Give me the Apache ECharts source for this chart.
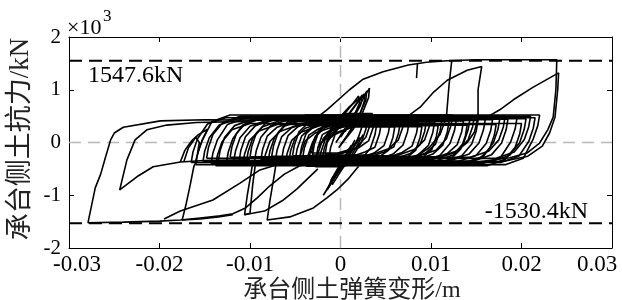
<!DOCTYPE html>
<html><head><meta charset="utf-8">
<script src="https://cdn.jsdelivr.net/npm/echarts@6/dist/echarts.min.js"></script>
<style>html,body{margin:0;padding:0;background:#fff}#c{width:622px;height:300px}</style>
</head><body><div id="c"></div>
<script>
// ---- axis ticks ----
const xTickValues = [-0.03, -0.02, -0.01, 0, 0.01, 0.02, 0.03];
const yTickValues = [-2, -1, 0, 1, 2];
const yScaleLabel = '×10';
const yScaleExp = '3';
// ---- reference limits (x10^3 kN) ----
const limitUpper = 1.5476;
const limitLower = -1.5304;
const limitUpperText = '1547.6kN';
const limitLowerText = '-1530.4kN';
// ---- hysteresis branches (x: m, y: x10^3 kN) ----
const negOuter = [[-0.0012,0.36],[-0.0067,0.42],[-0.015,0.43],[-0.0199,0.41],[-0.024,0.29],[-0.025,0.18],[-0.0254,0.05],[-0.026,-0.3],[-0.0265,-0.6],[-0.0271,-0.86],[-0.0279,-1.52],[-0.024,-1.51],[-0.02,-1.49],[-0.0177,-1.47],[-0.0155,-1.43],[-0.0133,-1.39],[-0.0119,-1.35],[-0.0105,-1.24],[-0.0092,-1.05],[-0.0078,-0.82],[-0.0062,-0.6],[-0.0045,-0.44],[-0.002,-0.36]];
const negSecond = [[-0.01,0.4],[-0.0159,0.38],[-0.0192,0.33],[-0.0214,0.24],[-0.0227,0.05],[-0.0236,-0.33],[-0.0244,-0.9],[-0.0225,-0.65],[-0.0207,-0.46],[-0.0177,-0.37],[-0.015,-0.34],[-0.01,-0.33]];
const negThird = [[-0.0158,-0.33],[-0.0162,-0.45],[-0.0166,-0.8],[-0.0171,-1.2],[-0.0175,-1.47],[-0.0155,-1.45],[-0.0135,-1.41],[-0.0119,-1.37]];
const negCurveA = [[-0.0195,-1.45],[-0.0177,-1.3],[-0.0141,-1.09],[-0.0111,-0.77],[-0.0089,-0.52],[-0.0072,-0.43]];
const negFourth = [[-0.0097,-0.38],[-0.0099,-0.6],[-0.0103,-1.0],[-0.0106,-1.37],[-0.0084,-1.3],[-0.0064,-1.1],[-0.0048,-0.88],[-0.0036,-0.68],[-0.0025,-0.5]];
const negFourthB = [[-0.0094,-0.4],[-0.0097,-0.8],[-0.01,-1.34],[-0.0106,-1.37]];
const negFifth = [[-0.0071,-0.38],[-0.0074,-0.7],[-0.0078,-1.1],[-0.0081,-1.47],[-0.0056,-1.41],[-0.003,-1.24],[-0.0015,-1.05],[-0.0004,-0.9],[0.0008,-0.7],[0.002,-0.45]];
const negSmall = [[-0.0177,-0.37],[-0.0172,-0.15],[-0.0165,0.02],[-0.0157,0.15],[-0.0147,0.25],[-0.0152,0.08],[-0.0156,-0.1],[-0.016,-0.35]];
const negSpike = [[-0.0173,-0.36],[-0.0168,-0.1],[-0.016,0.1],[-0.0156,0.0],[-0.0158,-0.2]];
const posOuter = [[-0.003,0.42],[-0.0015,0.62],[0.001,1.0],[0.0025,1.2],[0.0047,1.34],[0.0075,1.47],[0.0095,1.52],[0.0118,1.55],[0.015,1.57],[0.0239,1.57],[0.0238,1.0],[0.0235,0.48],[0.0229,0.24],[0.022,-0.01],[0.0206,-0.2],[0.0187,-0.29],[0.0151,-0.37],[0.0088,-0.41],[0.0022,-0.43]];
const posSecond = [[0.011,0.45],[0.0162,0.48],[0.0176,0.62],[0.0191,0.81],[0.0213,1.05],[0.0241,1.32],[0.024,1.0],[0.0237,0.48],[0.0231,0.18],[0.0223,-0.07],[0.0207,-0.26],[0.0182,-0.35],[0.0143,-0.39],[0.009,-0.4]];
const posHump = [[0.004,0.45],[0.0073,0.48],[0.0088,0.67],[0.0102,0.94],[0.0118,1.18],[0.014,1.37],[0.0156,1.44],[0.0152,1.0],[0.0152,0.48],[0.0148,0.2],[0.014,0.0],[0.0125,-0.2],[0.01,-0.33],[0.006,-0.38]];
const posDrop = [[0.0123,1.56],[0.012,1.1],[0.0117,0.48],[0.011,0.15],[0.0098,-0.1],[0.008,-0.3],[0.005,-0.38]];
const posTick = [[0.0085,1.49],[0.0084,1.22]];
const leafUp1 = [[-0.001,0.1],[0.0008,0.5],[0.002,0.78],[0.003,0.97],[0.0032,1.03],[0.0031,0.85],[0.0024,0.55],[0.0014,0.25],[0.0,-0.05]];
const leafUp2 = [[-0.0015,0.0],[0.0005,0.45],[0.0018,0.75],[0.0026,0.92],[0.0027,0.82],[0.0022,0.55],[0.0012,0.25],[-0.0002,-0.1]];
const leafUp3 = [[-0.002,0.05],[0.0,0.45],[0.0012,0.7],[0.002,0.88],[0.0021,0.75],[0.0015,0.5],[0.0005,0.2]];
const leafUp4 = [[-0.0025,-0.1],[-0.0005,0.4],[0.001,0.68],[0.0022,0.85],[0.0024,0.9],[0.0022,0.7],[0.0012,0.4],[0.0,0.1]];
const leafUp5 = [[-0.0005,0.0],[0.0012,0.45],[0.0022,0.72],[0.0028,0.93],[0.0029,0.98],[0.0028,0.8],[0.002,0.5],[0.0008,0.15]];
const leafDown1 = [[0.0016,0.05],[0.0005,-0.3],[-0.0007,-0.65],[-0.0016,-0.92],[-0.0019,-1.0],[-0.0012,-0.8],[0.0,-0.5],[0.001,-0.2],[0.0022,0.1]];
const leafDown2 = [[0.0012,-0.05],[0.0,-0.4],[-0.001,-0.7],[-0.0014,-0.88],[-0.0008,-0.7],[0.0003,-0.4],[0.0015,-0.1]];
const leafDown3 = [[0.002,0.1],[0.0008,-0.3],[-0.0004,-0.6],[-0.0012,-0.82],[-0.0015,-0.9],[-0.0008,-0.7],[0.0004,-0.4],[0.0014,-0.1]];
const leafDown4 = [[0.0025,0.15],[0.0012,-0.25],[0.0,-0.55],[-0.0009,-0.8],[-0.001,-0.7],[0.0,-0.45],[0.0015,-0.1]];
const innerLoops = [
 [[-0.0165,-0.38],[-0.0163,-0.18],[-0.0158,0.07],[-0.0147,0.35],[-0.0127,0.47],[0.0215,0.47],[0.0213,0.27],[0.0208,0.02],[0.0197,-0.26],[0.0177,-0.38],[-0.0165,-0.38]],
 [[-0.0152,-0.36],[-0.015,-0.16],[-0.0145,0.09],[-0.0134,0.33],[-0.0114,0.45],[0.0205,0.45],[0.0203,0.25],[0.0198,0.0],[0.0187,-0.24],[0.0167,-0.36],[-0.0152,-0.36]],
 [[-0.0143,-0.4],[-0.0141,-0.2],[-0.0136,0.05],[-0.0125,0.34],[-0.0105,0.46],[0.0195,0.46],[0.0193,0.26],[0.0188,0.01],[0.0177,-0.28],[0.0157,-0.4],[-0.0143,-0.4]],
 [[-0.0135,-0.35],[-0.0133,-0.15],[-0.0128,0.1],[-0.0117,0.32],[-0.0097,0.44],[0.0185,0.44],[0.0183,0.24],[0.0178,-0.01],[0.0167,-0.23],[0.0147,-0.35],[-0.0135,-0.35]],
 [[-0.0126,-0.38],[-0.0124,-0.18],[-0.0119,0.07],[-0.0108,0.33],[-0.0088,0.45],[0.0176,0.45],[0.0174,0.25],[0.0169,0.0],[0.0158,-0.26],[0.0138,-0.38],[-0.0126,-0.38]],
 [[-0.0118,-0.36],[-0.0116,-0.16],[-0.0111,0.09],[-0.01,0.31],[-0.008,0.43],[0.0168,0.43],[0.0166,0.23],[0.0161,-0.02],[0.015,-0.24],[0.013,-0.36],[-0.0118,-0.36]],
 [[-0.0112,-0.34],[-0.011,-0.14],[-0.0105,0.11],[-0.0094,0.32],[-0.0074,0.44],[0.016,0.44],[0.0158,0.24],[0.0153,-0.01],[0.0142,-0.22],[0.0122,-0.34],[-0.0112,-0.34]],
 [[-0.0104,-0.37],[-0.0102,-0.17],[-0.0097,0.08],[-0.0086,0.3],[-0.0066,0.42],[0.0152,0.42],[0.015,0.22],[0.0145,-0.03],[0.0134,-0.25],[0.0114,-0.37],[-0.0104,-0.37]],
 [[-0.0095,-0.35],[-0.0093,-0.15],[-0.0088,0.1],[-0.0077,0.32],[-0.0057,0.44],[0.0143,0.44],[0.0141,0.24],[0.0136,-0.01],[0.0125,-0.23],[0.0105,-0.35],[-0.0095,-0.35]],
 [[-0.0088,-0.33],[-0.0086,-0.13],[-0.0081,0.12],[-0.007,0.29],[-0.005,0.41],[0.0136,0.41],[0.0134,0.21],[0.0129,-0.04],[0.0118,-0.21],[0.0098,-0.33],[-0.0088,-0.33]],
 [[-0.008,-0.36],[-0.0078,-0.16],[-0.0073,0.09],[-0.0062,0.31],[-0.0042,0.43],[0.0128,0.43],[0.0126,0.23],[0.0121,-0.02],[0.011,-0.24],[0.009,-0.36],[-0.008,-0.36]],
 [[-0.0072,-0.34],[-0.007,-0.14],[-0.0065,0.11],[-0.0054,0.28],[-0.0034,0.4],[0.012,0.4],[0.0118,0.2],[0.0113,-0.05],[0.0102,-0.22],[0.0082,-0.34],[-0.0072,-0.34]],
 [[-0.0065,-0.32],[-0.0063,-0.12],[-0.0058,0.13],[-0.0047,0.3],[-0.0027,0.42],[0.0112,0.42],[0.011,0.22],[0.0105,-0.03],[0.0094,-0.2],[0.0074,-0.32],[-0.0065,-0.32]],
 [[-0.0057,-0.35],[-0.0055,-0.15],[-0.005,0.1],[-0.0039,0.27],[-0.0019,0.39],[0.0104,0.39],[0.0102,0.19],[0.0097,-0.06],[0.0086,-0.23],[0.0066,-0.35],[-0.0057,-0.35]],
 [[-0.005,-0.33],[-0.0048,-0.13],[-0.0043,0.12],[-0.0032,0.29],[-0.0012,0.41],[0.0095,0.41],[0.0093,0.21],[0.0088,-0.04],[0.0077,-0.21],[0.0057,-0.33],[-0.005,-0.33]],
 [[-0.0042,-0.31],[-0.004,-0.11],[-0.0035,0.14],[-0.0024,0.26],[-0.0004,0.38],[0.0086,0.38],[0.0084,0.18],[0.0079,-0.07],[0.0068,-0.19],[0.0048,-0.31],[-0.0042,-0.31]],
 [[-0.0035,-0.34],[-0.0033,-0.14],[-0.0028,0.11],[-0.0017,0.28],[0.0003,0.4],[0.0076,0.4],[0.0074,0.2],[0.0069,-0.05],[0.0058,-0.22],[0.0038,-0.34],[-0.0035,-0.34]],
 [[-0.0027,-0.3],[-0.0025,-0.1],[-0.002,0.15],[-0.0009,0.25],[0.0011,0.37],[0.0066,0.37],[0.0064,0.17],[0.0059,-0.08],[0.0048,-0.18],[0.0028,-0.3],[-0.0027,-0.3]],
 [[-0.002,-0.32],[-0.0018,-0.12],[-0.0013,0.13],[-0.0002,0.27],[0.0018,0.39],[0.0055,0.39],[0.0053,0.19],[0.0048,-0.06],[0.0037,-0.2],[0.0017,-0.32],[-0.002,-0.32]],
 [[-0.0013,-0.3],[-0.0011,-0.1],[-0.0006,0.15],[0.0005,0.24],[0.0025,0.36],[0.0045,0.36],[0.0043,0.16],[0.0038,-0.09],[0.0027,-0.18],[0.0007,-0.3],[-0.0013,-0.3]],
 [[-0.016,-0.42],[-0.0158,-0.22],[-0.0153,0.03],[-0.0142,0.4],[-0.0122,0.52],[0.022,0.52],[0.0218,0.32],[0.0213,0.07],[0.0202,-0.3],[0.0182,-0.42],[-0.016,-0.42]],
 [[-0.0148,-0.3],[-0.0146,-0.1],[-0.0141,0.15],[-0.013,0.38],[-0.011,0.5],[0.021,0.5],[0.0208,0.3],[0.0203,0.05],[0.0192,-0.18],[0.0172,-0.3],[-0.0148,-0.3]],
 [[-0.0138,-0.44],[-0.0136,-0.24],[-0.0131,0.01],[-0.012,0.24],[-0.01,0.36],[0.02,0.36],[0.0198,0.16],[0.0193,-0.09],[0.0182,-0.32],[0.0162,-0.44],[-0.0138,-0.44]],
 [[-0.0122,-0.28],[-0.012,-0.08],[-0.0115,0.17],[-0.0104,0.38],[-0.0084,0.5],[0.0182,0.5],[0.018,0.3],[0.0175,0.05],[0.0164,-0.16],[0.0144,-0.28],[-0.0122,-0.28]],
 [[-0.0108,-0.42],[-0.0106,-0.22],[-0.0101,0.03],[-0.009,0.22],[-0.007,0.34],[0.0172,0.34],[0.017,0.14],[0.0165,-0.11],[0.0154,-0.3],[0.0134,-0.42],[-0.0108,-0.42]],
 [[-0.01,-0.27],[-0.0098,-0.07],[-0.0093,0.18],[-0.0082,0.38],[-0.0062,0.5],[0.0148,0.5],[0.0146,0.3],[0.0141,0.05],[0.013,-0.15],[0.011,-0.27],[-0.01,-0.27]],
 [[-0.0085,-0.43],[-0.0083,-0.23],[-0.0078,0.02],[-0.0067,0.21],[-0.0047,0.33],[0.014,0.33],[0.0138,0.13],[0.0133,-0.12],[0.0122,-0.31],[0.0102,-0.43],[-0.0085,-0.43]],
 [[-0.0076,-0.26],[-0.0074,-0.06],[-0.0069,0.19],[-0.0058,0.4],[-0.0038,0.52],[0.0124,0.52],[0.0122,0.32],[0.0117,0.07],[0.0106,-0.14],[0.0086,-0.26],[-0.0076,-0.26]],
 [[-0.0061,-0.41],[-0.0059,-0.21],[-0.0054,0.04],[-0.0043,0.2],[-0.0023,0.32],[0.0108,0.32],[0.0106,0.12],[0.0101,-0.13],[0.009,-0.29],[0.007,-0.41],[-0.0061,-0.41]],
 [[-0.0053,-0.25],[-0.0051,-0.05],[-0.0046,0.2],[-0.0035,0.38],[-0.0015,0.5],[0.01,0.5],[0.0098,0.3],[0.0093,0.05],[0.0082,-0.13],[0.0062,-0.25],[-0.0053,-0.25]],
 [[-0.0046,-0.42],[-0.0044,-0.22],[-0.0039,0.03],[-0.0028,0.18],[-0.0008,0.3],[0.009,0.3],[0.0088,0.1],[0.0083,-0.15],[0.0072,-0.3],[0.0052,-0.42],[-0.0046,-0.42]],
 [[-0.0031,-0.24],[-0.0029,-0.04],[-0.0024,0.21],[-0.0013,0.38],[0.0007,0.5],[0.0071,0.5],[0.0069,0.3],[0.0064,0.05],[0.0053,-0.12],[0.0033,-0.24],[-0.0031,-0.24]],
 [[-0.0024,-0.4],[-0.0022,-0.2],[-0.0017,0.05],[-0.0006,0.18],[0.0014,0.3],[0.006,0.3],[0.0058,0.1],[0.0053,-0.15],[0.0042,-0.28],[0.0022,-0.4],[-0.0024,-0.4]],
 [[-0.0017,-0.22],[-0.0015,-0.02],[-0.001,0.23],[0.0001,0.36],[0.0021,0.48],[0.0038,0.48],[0.0036,0.28],[0.0031,0.03],[0.002,-0.1],[0.0,-0.22],[-0.0017,-0.22]],
 [[-0.0038,-0.45],[-0.0036,-0.25],[-0.0031,0.0],[-0.002,0.3],[0.0,0.45],[0.003,0.45],[0.0028,0.25],[0.0023,0.0],[0.0012,-0.3],[-0.0008,-0.45],[-0.0038,-0.45]],
 [[-0.0032,-0.2],[-0.003,0.0],[-0.0025,0.2],[-0.0014,0.4],[0.0006,0.55],[0.0035,0.55],[0.0033,0.35],[0.0028,0.1],[0.0017,-0.1],[-0.0003,-0.2],[-0.0032,-0.2]],
 [[-0.0045,-0.28],[-0.0043,-0.08],[-0.0038,0.17],[-0.0027,0.34],[-0.0007,0.46],[0.0025,0.46],[0.0023,0.26],[0.0018,0.01],[0.0007,-0.16],[-0.0013,-0.28],[-0.0045,-0.28]],
 [[-0.0028,-0.46],[-0.0026,-0.26],[-0.0021,-0.01],[-0.001,0.22],[0.001,0.34],[0.004,0.34],[0.0038,0.14],[0.0033,-0.11],[0.0022,-0.34],[0.0002,-0.46],[-0.0028,-0.46]]
];
const xName = '承台侧土弹簧变形/m';
const yName = '承台侧土抗力/kN';

const SERIF = "'Liberation Serif','Noto Sans CJK SC',serif";
const chart = echarts.init(document.getElementById('c'), null, {renderer:'canvas'});
const branches = [negOuter,negSecond,negThird,negCurveA,negFourth,negFourthB,negFifth,negSmall,negSpike,
  posOuter,posSecond,posHump,posDrop,posTick,leafUp1,leafUp2,leafUp3,leafUp4,leafUp5,
  leafDown1,leafDown2,leafDown3,leafDown4].concat(innerLoops);
const series = [];
const xMin = xTickValues[0], xMax = xTickValues[xTickValues.length-1];
const yMin = yTickValues[0], yMax = yTickValues[yTickValues.length-1];
series.push({type:'line', data:[[xMin,0],[xMax,0]], symbol:'none', silent:true, z:1,
  lineStyle:{color:'#b8b8b8', width:1.5, type:[12,7]}});
series.push({type:'line', data:[[0,yMin],[0,yMax]], symbol:'none', silent:true, z:1,
  lineStyle:{color:'#b8b8b8', width:1.5, type:[12,7]}});
branches.forEach(b => series.push({type:'line', data:b, symbol:'none', silent:true, z:3,
  lineStyle:{color:'#000', width:1.6}}));
series.push({type:'line', data:[[xMin,limitUpper],[xMax,limitUpper]], symbol:'none', silent:true, z:5,
  lineStyle:{color:'#000', width:2, type:[13,7]}});
series.push({type:'line', data:[[xMin,limitLower],[xMax,limitLower]], symbol:'none', silent:true, z:5,
  lineStyle:{color:'#000', width:2, type:[13,7]}});

function fmtX(v){
  if (Math.abs(v) < 1e-9) return '0';
  const s = (+v.toFixed(2)).toString();
  if (Math.abs(v - xMin) < 1e-9) return '{l|' + s + '}';
  if (Math.abs(v - xMax) < 1e-9) return '{r|' + s + '}';
  return s;
}
const xTickFont = {fontFamily:SERIF, fontSize:23, color:'#000'};
const yTickFont = {fontFamily:SERIF, fontSize:21, color:'#000'};
const axisCommon = {
  axisLine:{show:true, onZero:false, lineStyle:{color:'#000', width:1}},
  axisTick:{show:true, inside:true, length:5, lineStyle:{color:'#000', width:1}},
  splitLine:{show:false}
};
function ttl(text, pos, size){
  return Object.assign({text:text, padding:0, itemGap:0,
    textStyle:{fontFamily:SERIF, fontSize:size, fontWeight:'normal', color:'#000', lineHeight:size}}, pos);
}
chart.setOption({
  animation:false,
  grid:{left:69, right:10, top:37, bottom:52, containLabel:false},
  title:[
    ttl(yScaleLabel, {left:67, top:17}, 22),
    ttl(yScaleExp, {left:103, top:8}, 17),
    ttl(limitUpperText, {left:88, top:64}, 24),
    ttl(limitLowerText, {right:34, top:200}, 24)
  ],
  xAxis:[
    Object.assign({type:'value', min:xMin, max:xMax, interval:0.01, position:'bottom',
      axisLabel:{formatter:fmtX, margin:5, ...xTickFont,
        rich:{l:{...xTickFont, padding:[0,0,0,16]}, r:{...xTickFont, padding:[0,30,0,0]}}}}, axisCommon),
    Object.assign({type:'value', min:xMin, max:xMax, interval:0.01, position:'top', axisLabel:{show:false}}, axisCommon)
  ],
  yAxis:[
    Object.assign({type:'value', min:yMin, max:yMax, interval:1, position:'left',
      axisLabel:{margin:8, ...yTickFont, formatter:v=>String(v)}}, axisCommon),
    Object.assign({type:'value', min:yMin, max:yMax, interval:1, position:'right', axisLabel:{show:false}}, axisCommon)
  ],
  graphic:[
    {type:'text', x:352, y:291, silent:true, style:{text:xName, fontFamily:SERIF, fontSize:24, fill:'#222', textAlign:'center', textVerticalAlign:'middle'}},
    {type:'text', x:21, y:139, rotation:Math.PI/2, silent:true, style:{text:yName, fontFamily:SERIF, fontSize:27, fill:'#222', textAlign:'center', textVerticalAlign:'middle'}}
  ],
  series:series
});
</script></body></html>
